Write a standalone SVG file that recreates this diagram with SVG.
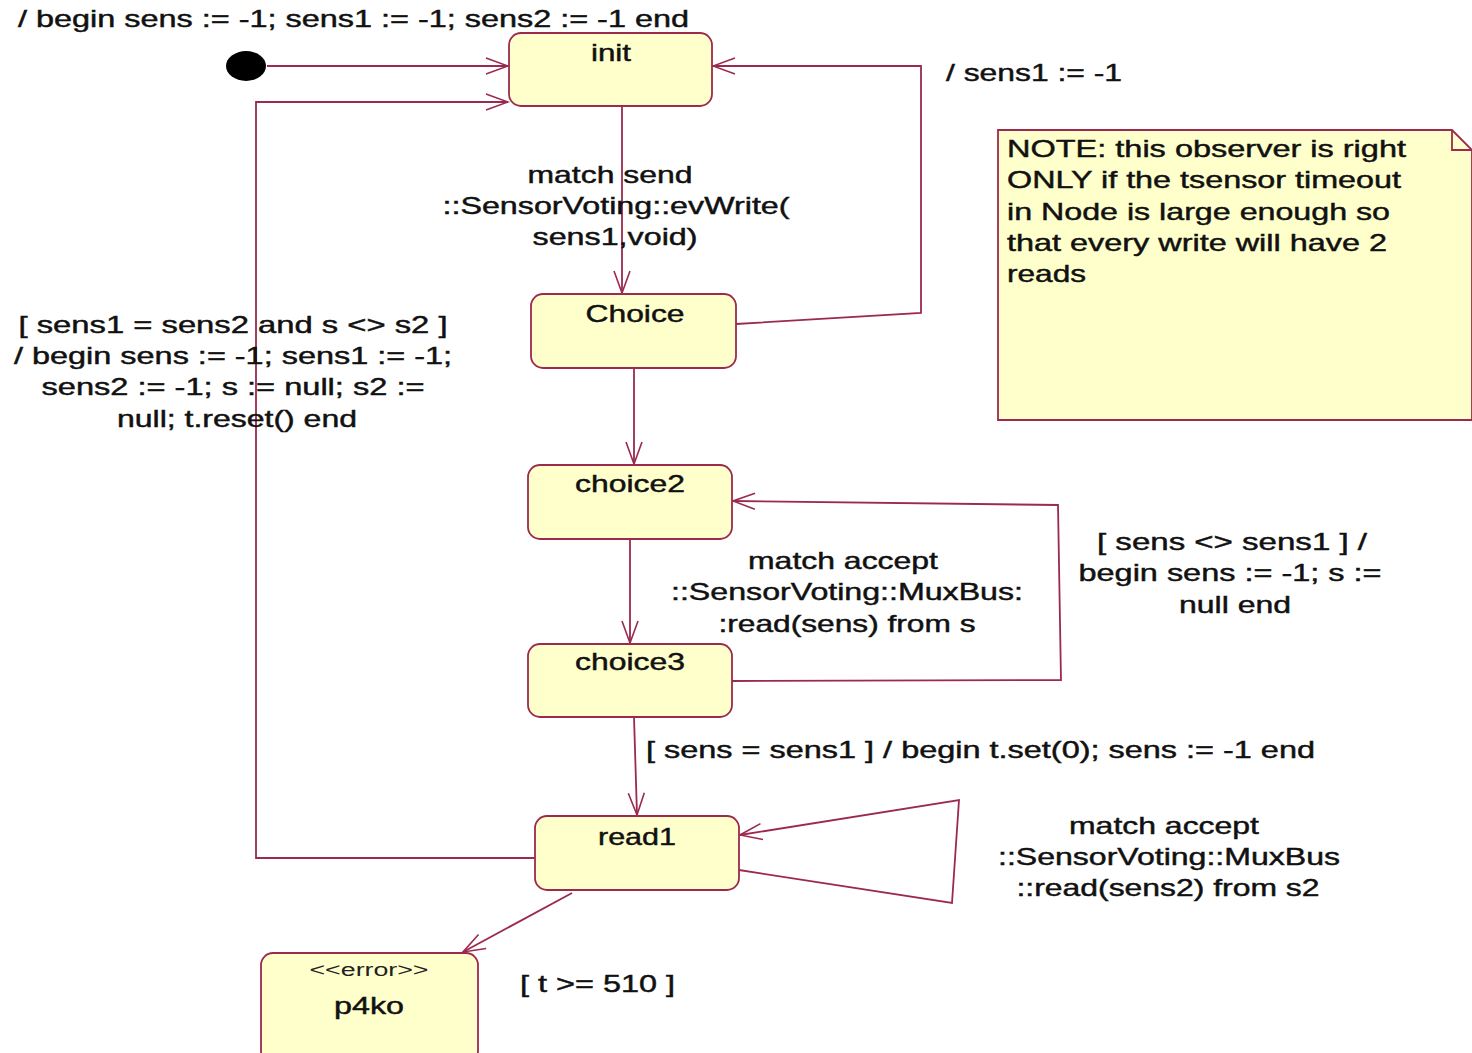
<svg xmlns="http://www.w3.org/2000/svg" width="1472" height="1053" viewBox="0 0 1472 1053">
  <defs>
    <marker id="open" viewBox="-24 -10 26 20" refX="0" refY="0" markerWidth="26" markerHeight="20" orient="auto" markerUnits="userSpaceOnUse">
      <path d="M -22 -8 L 0 0 L -22 8" fill="none" stroke="#9b2a4e" stroke-width="1.6"/>
    </marker>
    <style>
      .state { fill: #ffffcc; stroke: #9b2a4e; stroke-width: 1.8; }
      .note { fill: #ffffcc; stroke: #9b2a4e; stroke-width: 1.8; }
      .edge { fill: none; stroke: #9b2a4e; stroke-width: 1.8; marker-end: url(#open); }
      .line { fill: none; stroke: #9b2a4e; stroke-width: 1.8; }
      text { font-family: "Liberation Sans", Arial, sans-serif; font-size: 24px; fill: #111; stroke: #111; stroke-width: 0.45; }
      .c { text-anchor: middle; }
      .stereo { font-size: 18px; stroke-width: 0; fill: #222; }
    </style>
  </defs>

  <rect width="1472" height="1053" fill="#ffffff"/>

  <!-- transitions -->
  <g id="connectors">
    <path class="edge" d="M 267 66 L 508 66"/>
    <path class="edge" d="M 535 858 L 256 858 L 256 102 L 508 102"/>
    <path class="edge" d="M 622 106 L 622 293"/>
    <path class="edge" d="M 736 324 L 921 313 L 921 66 L 713 66"/>
    <path class="edge" d="M 634 368 L 634 464"/>
    <path class="edge" d="M 630 539 L 630 643"/>
    <path class="edge" d="M 732 681 L 1061 680 L 1058 505 L 733 501"/>
    <path class="edge" d="M 634 717 L 637 815"/>
    <path class="edge" d="M 739 870 L 952 903 L 959 800 L 740 835"/>
    <path class="edge" d="M 572 893 L 463 952"/>
  </g>

  <!-- initial pseudostate -->
  <g id="start">
    <ellipse cx="246" cy="66" rx="20" ry="15" fill="#000"/>
  </g>

  <g id="init">
    <rect class="state" x="509" y="33" width="203" height="73" rx="12"/>
    <text class="c" x="611" y="61" textLength="40" lengthAdjust="spacingAndGlyphs">init</text>
  </g>

  <g id="Choice">
    <rect class="state" x="531" y="294" width="205" height="74" rx="12"/>
    <text class="c" x="635" y="322" textLength="99" lengthAdjust="spacingAndGlyphs">Choice</text>
  </g>

  <g id="choice2">
    <rect class="state" x="528" y="465" width="204" height="74" rx="12"/>
    <text class="c" x="630" y="492" textLength="110" lengthAdjust="spacingAndGlyphs">choice2</text>
  </g>

  <g id="choice3">
    <rect class="state" x="528" y="644" width="204" height="73" rx="12"/>
    <text class="c" x="630" y="670" textLength="110" lengthAdjust="spacingAndGlyphs">choice3</text>
  </g>

  <g id="read1">
    <rect class="state" x="535" y="816" width="204" height="74" rx="12"/>
    <text class="c" x="637" y="845" textLength="78" lengthAdjust="spacingAndGlyphs">read1</text>
  </g>

  <g id="p4ko">
    <rect class="state" x="261" y="953" width="217" height="110" rx="12"/>
    <text class="c stereo" x="369" y="976" textLength="119" lengthAdjust="spacingAndGlyphs">&lt;&lt;error&gt;&gt;</text>
    <text class="c" x="369" y="1014" textLength="70" lengthAdjust="spacingAndGlyphs">p4ko</text>
  </g>

  <g id="note">
    <path class="note" d="M 998 130 L 1452 130 L 1472 150 L 1472 420 L 998 420 Z"/>
    <path class="line" d="M 1452 130 L 1452 150 L 1472 150"/>
    <text x="1007" y="157" textLength="399" lengthAdjust="spacingAndGlyphs">NOTE: this observer is right</text>
    <text x="1007" y="188" textLength="394" lengthAdjust="spacingAndGlyphs">ONLY if the tsensor timeout</text>
    <text x="1007" y="220" textLength="383" lengthAdjust="spacingAndGlyphs">in Node is large enough so</text>
    <text x="1007" y="251" textLength="380" lengthAdjust="spacingAndGlyphs">that every write will have 2</text>
    <text x="1007" y="282" textLength="79" lengthAdjust="spacingAndGlyphs">reads</text>
  </g>

  <!-- transition labels -->
  <g id="labels">
    <text x="18" y="27" textLength="671" lengthAdjust="spacingAndGlyphs">/ begin sens := -1; sens1 := -1; sens2 := -1 end</text>
    <text x="946" y="81" textLength="176" lengthAdjust="spacingAndGlyphs">/ sens1 := -1</text>

    <text class="c" x="610" y="183" textLength="165" lengthAdjust="spacingAndGlyphs">match send</text>
    <text class="c" x="616" y="214" textLength="347" lengthAdjust="spacingAndGlyphs">::SensorVoting::evWrite(</text>
    <text class="c" x="615" y="245" textLength="165" lengthAdjust="spacingAndGlyphs">sens1,void)</text>

    <text class="c" x="233" y="333" textLength="429" lengthAdjust="spacingAndGlyphs">[ sens1 = sens2 and s &lt;&gt; s2 ]</text>
    <text class="c" x="233" y="364" textLength="438" lengthAdjust="spacingAndGlyphs">/ begin sens := -1; sens1 := -1;</text>
    <text class="c" x="233" y="395" textLength="383" lengthAdjust="spacingAndGlyphs">sens2 := -1; s := null; s2 :=</text>
    <text class="c" x="237" y="427" textLength="240" lengthAdjust="spacingAndGlyphs">null; t.reset() end</text>

    <text class="c" x="843" y="569" textLength="190" lengthAdjust="spacingAndGlyphs">match accept</text>
    <text class="c" x="847" y="600" textLength="352" lengthAdjust="spacingAndGlyphs">::SensorVoting::MuxBus:</text>
    <text class="c" x="847" y="632" textLength="257" lengthAdjust="spacingAndGlyphs">:read(sens) from s</text>

    <text class="c" x="1232" y="550" textLength="270" lengthAdjust="spacingAndGlyphs">[ sens &lt;&gt; sens1 ] /</text>
    <text class="c" x="1230" y="581" textLength="303" lengthAdjust="spacingAndGlyphs">begin sens := -1; s :=</text>
    <text class="c" x="1235" y="613" textLength="112" lengthAdjust="spacingAndGlyphs">null end</text>

    <text x="646" y="758" textLength="669" lengthAdjust="spacingAndGlyphs">[ sens = sens1 ] / begin t.set(0); sens := -1 end</text>

    <text class="c" x="1164" y="834" textLength="190" lengthAdjust="spacingAndGlyphs">match accept</text>
    <text class="c" x="1169" y="865" textLength="342" lengthAdjust="spacingAndGlyphs">::SensorVoting::MuxBus</text>
    <text class="c" x="1168" y="896" textLength="303" lengthAdjust="spacingAndGlyphs">::read(sens2) from s2</text>

    <text x="520" y="992" textLength="155" lengthAdjust="spacingAndGlyphs">[ t &gt;= 510 ]</text>
  </g>
</svg>
